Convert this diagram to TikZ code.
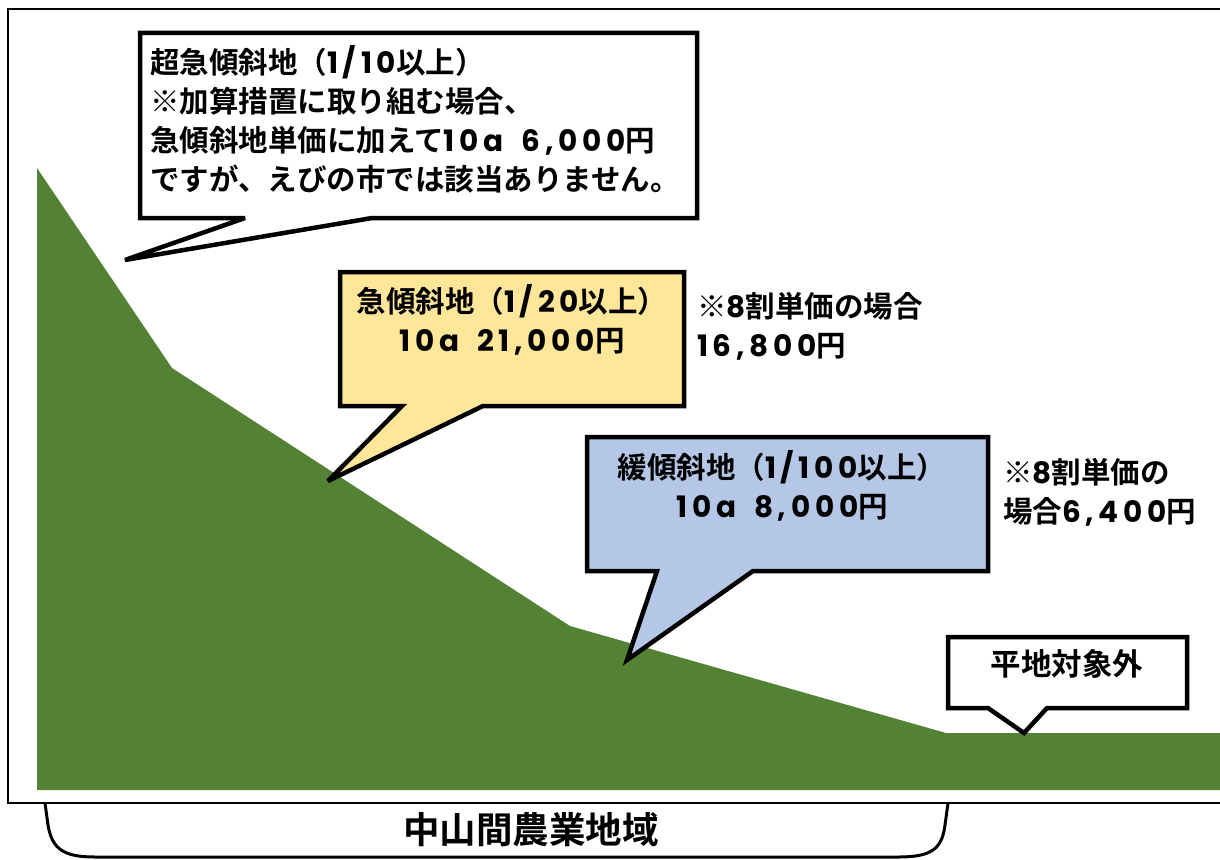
\documentclass[tikz,border=0pt]{standalone}
\usepackage{fontspec}
\setmainfont{Noto Sans CJK JP}[BoldFont={Noto Sans CJK JP Bold}]
\newfontfamily\latf{Poppins}[LetterSpace=16]
\newcommand\dgt[1]{{\latf #1}}
\newcommand\gapsp{\hspace{18pt}}
\definecolor{slope}{HTML}{548235}
\definecolor{yel}{HTML}{FFE699}
\definecolor{blu}{HTML}{B4C7E7}
\tikzset{
  callout/.style={draw=black,line width=4.5pt,line join=miter,miter limit=4},
  txt/.style={inner sep=0pt,font=\fontsize{29.5}{39}\selectfont\bfseries},
  frameline/.style={draw=black,line width=2.5pt},
}
\begin{document}
\begin{tikzpicture}[x=1pt,y=-1pt]
\useasboundingbox (0,0) rectangle (1220,859);
% outer frame
\draw[frameline] (1225,9) -- (8,9) -- (8,803) -- (1225,803);
% slope
\fill[slope] (37,168) -- (172,368) -- (570,626) -- (946,733) -- (1221,733) -- (1221,790) -- (37,790) -- cycle;
% bracket
\draw[line width=3pt] (45,803) -- (48,825) .. controls (52,850) and (65,857) .. (95,857) -- (898,857) .. controls (930,857) and (942,850) .. (945,825) -- (948,803);
\node[txt,font=\fontsize{36.5}{38}\selectfont\bfseries] (region) at (531,830) {中山間農業地域};
% callout 1
\draw[callout,fill=white] (140,33) -- (697,33) -- (697,218) -- (372,218) -- (125,260) -- (245,218) -- (140,218) -- cycle;
\node[txt,align=left,anchor=north west] (c1) at (150,45) {超急傾斜地（\dgt{1/10}以上）\\※加算措置に取り組む場合、\\急傾斜地単価に加えて\dgt{10a}\gapsp\dgt{6,000}円\\ですが、えびの市では該当ありません。};
% callout 2
\draw[callout,fill=yel] (340,272) -- (684,272) -- (684,406) -- (483,406) -- (328,481) -- (402,406) -- (340,406) -- cycle;
\node[txt,align=center] (c2) at (512,320) {急傾斜地（\dgt{1/20}以上）\\\dgt{10a}\gapsp\dgt{21,000}円};
\node[txt,align=left,anchor=west] (n2) at (697,326) {※\dgt{8}割単価の場合\\\dgt{16,800}円};
% callout 3
\draw[callout,fill=blu] (587,437) -- (988,437) -- (988,571) -- (753,571) -- (627,660) -- (657,571) -- (587,571) -- cycle;
\node[txt,align=center] (c3) at (782,486) {緩傾斜地（\dgt{1/100}以上）\\\dgt{10a}\gapsp\dgt{8,000}円};
\node[txt,align=left,anchor=west] (n3) at (1003,492) {※\dgt{8}割単価の\\場合\dgt{6,400}円};
% callout 4
\draw[callout,fill=white] (948,637) -- (1187,637) -- (1187,708) -- (1047,708) -- (1024,733) -- (988,708) -- (948,708) -- cycle;
\node[txt,font=\fontsize{30.5}{38}\selectfont\bfseries] (c4) at (1067,664) {平地対象外};
\end{tikzpicture}
\end{document}
